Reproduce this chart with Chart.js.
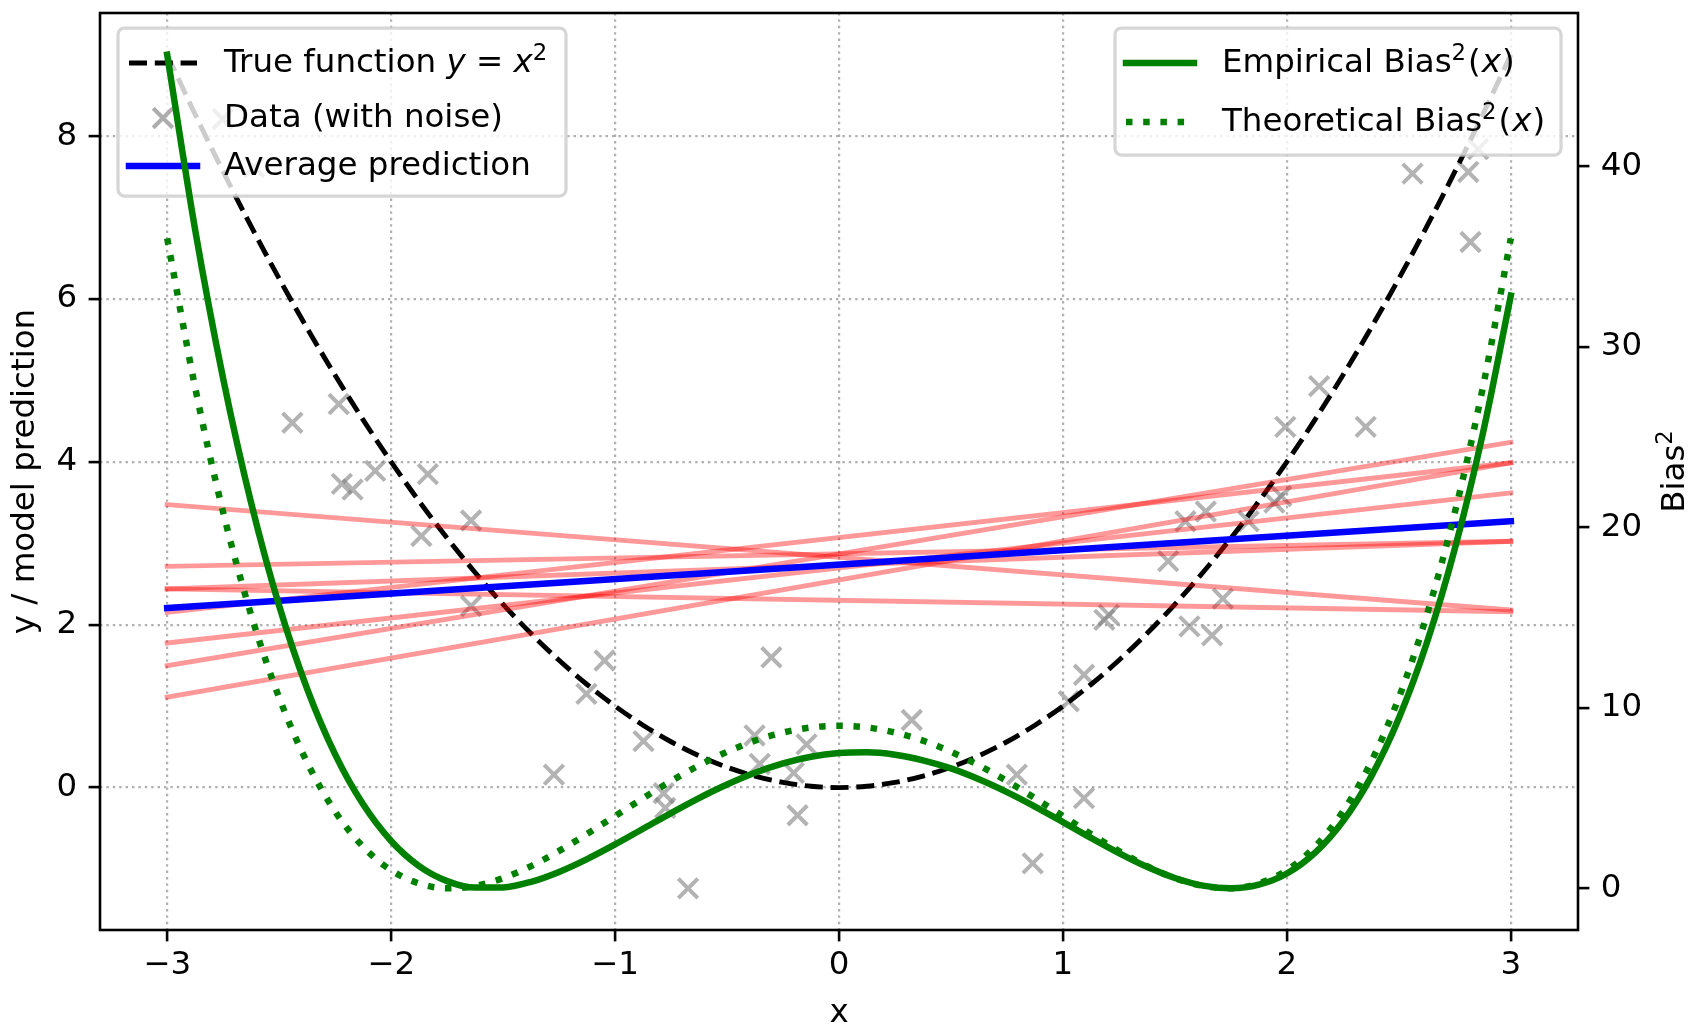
<!DOCTYPE html>
<html>
<head>
<meta charset="utf-8">
<title>Bias² of a linear fit to y = x²</title>
<script src="https://cdn.jsdelivr.net/npm/chart.js@4.4.1/dist/chart.umd.min.js"></script>
<style>
html,body{margin:0;padding:0;background:#ffffff;overflow:hidden;}
canvas{display:block;}
</style>
</head>
<body>
<canvas id="chart" width="1688" height="1028"></canvas>
<script>
// ---------------- data ----------------
const xTicks = [-3, -2, -1, 0, 1, 2, 3];
const yTicks = [0, 2, 4, 6, 8];
const biasTicks = [0, 10, 20, 30, 40];

// noisy observations (gray crosses)
const noisyX = [-3.02, -2.752, -2.612, -2.441, -2.234, -2.220, -2.172, -2.071, -1.836, -1.865,
  -1.643, -1.643, -1.128, -1.047, -1.273, -0.873, -0.783, -0.776, -0.674, -0.377,
  -0.354, -0.302, -0.202, -0.145, -0.185, 0.325, 0.794, 0.865, 1.026, 1.094,
  1.094, 1.185, 1.205, 1.470, 1.547, 1.565, 1.638, 1.666, 1.714, 1.829,
  1.944, 1.975, 1.993, 2.144, 2.352, 2.561, 2.820, 2.810, 2.854];
const noisyY = [8.22, 8.21, 7.62, 4.48, 4.71, 3.73, 3.66, 3.89, 3.85, 3.09,
  3.28, 2.23, 1.15, 1.56, 0.16, 0.57, -0.07, -0.25, -1.237, 0.64,
  0.29, 1.60, 0.18, 0.53, -0.34, 0.83, 0.16, -0.93, 1.06, 1.385,
  -0.13, 2.06, 2.12, 2.78, 3.27, 1.98, 3.39, 1.87, 2.32, 3.27,
  3.50, 3.58, 4.43, 4.93, 4.43, 7.54, 6.70, 7.56, 7.84];

// sample positions of the smooth curves
const curveX = [-3, -2.875, -2.75, -2.625, -2.5, -2.375, -2.25, -2.125, -2, -1.875, -1.75, -1.625,
  -1.5, -1.375, -1.25, -1.125, -1, -0.875, -0.75, -0.625, -0.5, -0.375, -0.25, -0.125, 0,
  0.125, 0.25, 0.375, 0.5, 0.625, 0.75, 0.875, 1, 1.125, 1.25, 1.375, 1.5, 1.625, 1.75,
  1.875, 2, 2.125, 2.25, 2.375, 2.5, 2.625, 2.75, 2.875, 3];
const trueY = [9, 8.266, 7.563, 6.891, 6.25, 5.641, 5.063, 4.516, 4, 3.516, 3.063, 2.641,
  2.25, 1.891, 1.563, 1.266, 1, 0.766, 0.563, 0.391, 0.25, 0.141, 0.063, 0.016, 0,
  0.016, 0.063, 0.141, 0.25, 0.391, 0.563, 0.766, 1, 1.266, 1.563, 1.891, 2.25, 2.641, 3.063,
  3.516, 4, 4.516, 5.063, 5.641, 6.25, 6.891, 7.563, 8.266, 9];
const empiricalBias2 = [46.17, 36.46, 28.23, 21.34, 15.65, 11.05, 7.42, 4.65, 2.62, 1.23, 0.40, 0.04,
  0.05, 0.36, 0.91, 1.62, 2.43, 3.30, 4.17, 5.00, 5.75, 6.40, 6.92, 7.29, 7.49,
  7.53, 7.40, 7.09, 6.64, 6.04, 5.33, 4.53, 3.67, 2.79, 1.95, 1.19, 0.57, 0.15, 0.00,
  0.20, 0.82, 1.96, 3.71, 6.16, 9.42, 13.60, 18.81, 25.18, 32.83];
const theoreticalBias2 = [36, 27.73, 20.82, 15.14, 10.56, 6.97, 4.25, 2.30, 1, 0.27, 0.004, 0.13,
  0.56, 1.23, 2.07, 3.01, 4, 4.99, 5.94, 6.81, 7.56, 8.18, 8.63, 8.91, 9,
  8.91, 8.63, 8.18, 7.56, 6.81, 5.94, 4.99, 4, 3.01, 2.07, 1.23, 0.56, 0.13, 0.004,
  0.27, 1, 2.30, 4.25, 6.97, 10.56, 15.14, 20.82, 27.73, 36];

// individual linear fits (red) and their average (blue)
const fitEndsX = [-3, 3];
const fitStartY = [3.475, 2.44, 2.44, 2.717, 2.151, 1.111, 1.496, 1.775];
const fitEndY   = [2.18, 2.16, 3.024, 3.024, 3.988, 3.988, 4.241, 3.619];
const avgPredY  = [2.205, 3.27];

// ---------------- text ----------------
const leftLegendLabels = [
  [{t: 'True function '}, {t: 'y', it: 1}, {t: ' = '}, {t: 'x', it: 1}, {t: '2', sup: 1}],
  [{t: 'Data (with noise)'}],
  [{t: 'Average prediction'}]
];
const rightLegendLabels = [
  [{t: 'Empirical Bias'}, {t: '2', sup: 1, after: 2}, {t: '('}, {t: 'x', it: 1, before: 1, after: 1}, {t: ')'}],
  [{t: 'Theoretical Bias'}, {t: '2', sup: 1, after: 2}, {t: '('}, {t: 'x', it: 1, before: 1, after: 1}, {t: ')'}]
];
const biasTitle = [{t: 'Bias'}, {t: '2', sup: 1}];

// ---------------- style ----------------
const FAMILY = '"DejaVu Sans", "Liberation Sans", sans-serif';
const FS = 32.5;
const GRID = '#b0b0b0';
const GRAY_X = 'rgba(128,128,128,0.6)';
const RED_FIT = 'rgba(255,0,0,0.4)';

function pts(xs, ys) { return xs.map((x, i) => ({x: x, y: ys[i]})); }

function segFont(ctx, s) {
  const fs = s.sup ? FS * 0.7 : FS;
  ctx.font = (s.it ? 'italic ' : '') + fs + 'px ' + FAMILY;
}
function richWidth(ctx, segs) {
  let w = 0;
  for (const s of segs) {
    segFont(ctx, s);
    w += (s.before || 0) + ctx.measureText(s.t).width + (s.after || 0);
  }
  return w;
}
function drawRich(ctx, segs, x, y) {
  let cx = x;
  for (const s of segs) {
    segFont(ctx, s);
    cx += (s.before || 0);
    ctx.fillText(s.t, cx, y - (s.sup ? FS * 0.36 : 0));
    cx += ctx.measureText(s.t).width + (s.after || 0);
  }
}
function hLine(ctx, x1, x2, y, color, lw, dash, cap) {
  ctx.save();
  ctx.beginPath();
  ctx.setLineDash(dash);
  ctx.lineCap = cap || 'butt';
  ctx.strokeStyle = color;
  ctx.lineWidth = lw;
  ctx.moveTo(x1, y);
  ctx.lineTo(x2, y);
  ctx.stroke();
  ctx.restore();
}
function crossMark(ctx, cx, cy) {
  const d = 13.8 * Math.SQRT1_2;
  ctx.save();
  ctx.beginPath();
  ctx.strokeStyle = GRAY_X;
  ctx.lineWidth = 4;
  ctx.moveTo(cx - d, cy - d); ctx.lineTo(cx + d, cy + d);
  ctx.moveTo(cx - d, cy + d); ctx.lineTo(cx + d, cy - d);
  ctx.stroke();
  ctx.restore();
}
function legendFrame(ctx, x, y, w, h) {
  ctx.save();
  ctx.beginPath();
  if (ctx.roundRect) ctx.roundRect(x, y, w, h, 6.5); else ctx.rect(x, y, w, h);
  ctx.fillStyle = 'rgba(255,255,255,0.8)';
  ctx.fill();
  ctx.lineWidth = 3.25;
  ctx.strokeStyle = 'rgba(204,204,204,0.8)';
  ctx.stroke();
  ctx.restore();
}
function drawLeftLegend(chart) {
  const ctx = chart.ctx, a = chart.chartArea;
  const x0 = a.left + 18, y0 = a.top + 15, w = 448, h = 168;
  legendFrame(ctx, x0, y0, w, h);
  const hx1 = x0 + 11, hx2 = x0 + 79, tx = x0 + 106;
  const rows = [y0 + 35, y0 + 90, y0 + 138];
  hLine(ctx, hx1, hx2, rows[0], '#000000', 4.9, [18, 7.8]);
  crossMark(ctx, (hx1 + hx2) / 2, rows[1]);
  hLine(ctx, hx1, hx2, rows[2], '#0000ff', 6.5, [], 'square');
  ctx.save();
  ctx.fillStyle = '#000'; ctx.textAlign = 'left'; ctx.textBaseline = 'alphabetic';
  drawRich(ctx, leftLegendLabels[0], tx, rows[0] + 9);
  drawRich(ctx, leftLegendLabels[1], tx, rows[1] + 9);
  drawRich(ctx, leftLegendLabels[2], tx, rows[2] + 9);
  ctx.restore();
}
function drawRightLegend(chart) {
  const ctx = chart.ctx, a = chart.chartArea;
  const w = 446, h = 127;
  const x0 = a.right - 17 - w, y0 = a.top + 15;
  legendFrame(ctx, x0, y0, w, h);
  const hx1 = x0 + 11, hx2 = x0 + 79, tx = x0 + 107;
  const rows = [y0 + 35, y0 + 94];
  hLine(ctx, hx1, hx2, rows[0], '#008000', 6.5, [], 'square');
  hLine(ctx, hx1, hx2, rows[1], '#008000', 6.5, [6.5, 10.7]);
  ctx.save();
  ctx.fillStyle = '#000'; ctx.textAlign = 'left'; ctx.textBaseline = 'alphabetic';
  drawRich(ctx, rightLegendLabels[0], tx, rows[0] + 9);
  drawRich(ctx, rightLegendLabels[1], tx, rows[1] + 9);
  ctx.restore();
}
function drawFrame(chart) {
  const ctx = chart.ctx, a = chart.chartArea;
  ctx.save();
  ctx.strokeStyle = '#000';
  ctx.lineWidth = 2.6;
  ctx.setLineDash([]);
  ctx.strokeRect(a.left, a.top, a.right - a.left, a.bottom - a.top);
  ctx.restore();
}
function drawBiasTitle(chart) {
  const ctx = chart.ctx, a = chart.chartArea;
  ctx.save();
  ctx.translate(a.right + 105.5, (a.top + a.bottom) / 2);
  ctx.rotate(-Math.PI / 2);
  const w = richWidth(ctx, biasTitle);
  ctx.fillStyle = '#000'; ctx.textAlign = 'left'; ctx.textBaseline = 'alphabetic';
  drawRich(ctx, biasTitle, -w / 2, 0);
  ctx.restore();
}

const overlay = {
  id: 'overlay',
  beforeDatasetDraw(chart, args) {
    const ds = chart.data.datasets[args.index];
    if (ds && ds.drawLeftLegendBefore) drawLeftLegend(chart);
  },
  afterDatasetsDraw(chart) {
    drawFrame(chart);
    drawRightLegend(chart);
    drawBiasTitle(chart);
  }
};

// ---------------- datasets ----------------
const datasets = [];
datasets.push({
  label: 'Theoretical Bias²(x)', data: pts(curveX, theoreticalBias2), yAxisID: 'y2',
  borderColor: '#008000', borderWidth: 6.5, borderDash: [6.5, 10.7], borderCapStyle: 'butt',
  pointRadius: 0, cubicInterpolationMode: 'monotone', fill: false, order: 1
});
datasets.push({
  label: 'Empirical Bias²(x)', data: pts(curveX, empiricalBias2), yAxisID: 'y2',
  borderColor: '#008000', borderWidth: 6.5, borderCapStyle: 'square',
  pointRadius: 0, cubicInterpolationMode: 'monotone', fill: false, order: 2,
  drawLeftLegendBefore: true
});
datasets.push({
  label: 'Average prediction', data: pts(fitEndsX, avgPredY), yAxisID: 'y',
  borderColor: '#0000ff', borderWidth: 6.5, borderCapStyle: 'square', pointRadius: 0, order: 3
});
fitStartY.forEach((v, i) => datasets.push({
  label: 'Fit ' + (i + 1), data: pts(fitEndsX, [v, fitEndY[i]]), yAxisID: 'y',
  borderColor: RED_FIT, borderWidth: 4.9, borderCapStyle: 'square', pointRadius: 0, order: 4
}));
datasets.push({
  label: 'True function y = x²', data: pts(curveX, trueY), yAxisID: 'y',
  borderColor: '#000000', borderWidth: 4.9, borderDash: [18, 7.8], borderCapStyle: 'butt',
  pointRadius: 0, cubicInterpolationMode: 'monotone', order: 5
});
datasets.push({
  label: 'Data (with noise)', data: pts(noisyX, noisyY), yAxisID: 'y', showLine: false,
  pointStyle: 'crossRot', pointRadius: 13.8, pointBorderWidth: 4,
  pointBorderColor: GRAY_X, pointBackgroundColor: GRAY_X, order: 6
});

// ---------------- scales ----------------
const tickFont = {family: FAMILY, size: FS, lineHeight: 1.2};
const fmt = v => (v < 0 ? '\u2212' + Math.abs(v) : String(v));
const pinTicks = list => s => { s.ticks = list.map(v => ({value: v})); };
const noPad = s => { s.paddingTop = 0; s.paddingBottom = 0; s.paddingLeft = 0; s.paddingRight = 0; };
const gridOpts = {
  color: GRID, lineWidth: 2.2, drawTicks: true, tickLength: 11.4, tickWidth: 2.6,
  tickColor: '#000000', tickBorderDash: []
};

new Chart(document.getElementById('chart'), {
  type: 'line',
  data: {datasets: datasets},
  plugins: [overlay],
  options: {
    responsive: false, animation: false, devicePixelRatio: 1, events: [],
    layout: {autoPadding: false, padding: {top: 13, left: 0, right: 0, bottom: 0}},
    plugins: {legend: {display: false}, tooltip: {enabled: false}, title: {display: false}},
    scales: {
      x: {
        type: 'linear', position: 'bottom', min: -3.3, max: 3.3,
        afterBuildTicks: pinTicks(xTicks),
        afterFit: s => { s.height = 98; noPad(s); },
        ticks: {autoSkip: false, maxRotation: 0, minRotation: 0, padding: 4.7, font: tickFont, color: '#000', callback: fmt},
        grid: gridOpts,
        border: {display: false, dash: [2.4, 4.0]},
        title: {display: true, text: 'x', color: '#000', font: {family: FAMILY, size: FS, lineHeight: 1}, padding: {top: 0, bottom: -2.3}}
      },
      y: {
        type: 'linear', position: 'left', min: -1.749, max: 9.512,
        afterBuildTicks: pinTicks(yTicks),
        afterFit: s => { s.width = 100; noPad(s); },
        ticks: {autoSkip: false, padding: 11.5, font: tickFont, color: '#000', callback: fmt},
        grid: gridOpts,
        border: {display: false, dash: [2.4, 4.0]},
        title: {display: true, text: 'y / model prediction', color: '#000', font: {family: FAMILY, size: FS, lineHeight: 1}, padding: {top: 9.5, bottom: 0}}
      },
      y2: {
        type: 'linear', position: 'right', min: -2.3085, max: 48.4785,
        afterBuildTicks: pinTicks(biasTicks),
        afterFit: s => { s.width = 110; noPad(s); },
        ticks: {autoSkip: false, padding: 11.4, font: tickFont, color: '#000', callback: fmt},
        grid: Object.assign({}, gridOpts, {drawOnChartArea: false}),
        border: {display: false},
        title: {display: false}
      }
    }
  }
});
</script>
</body>
</html>
